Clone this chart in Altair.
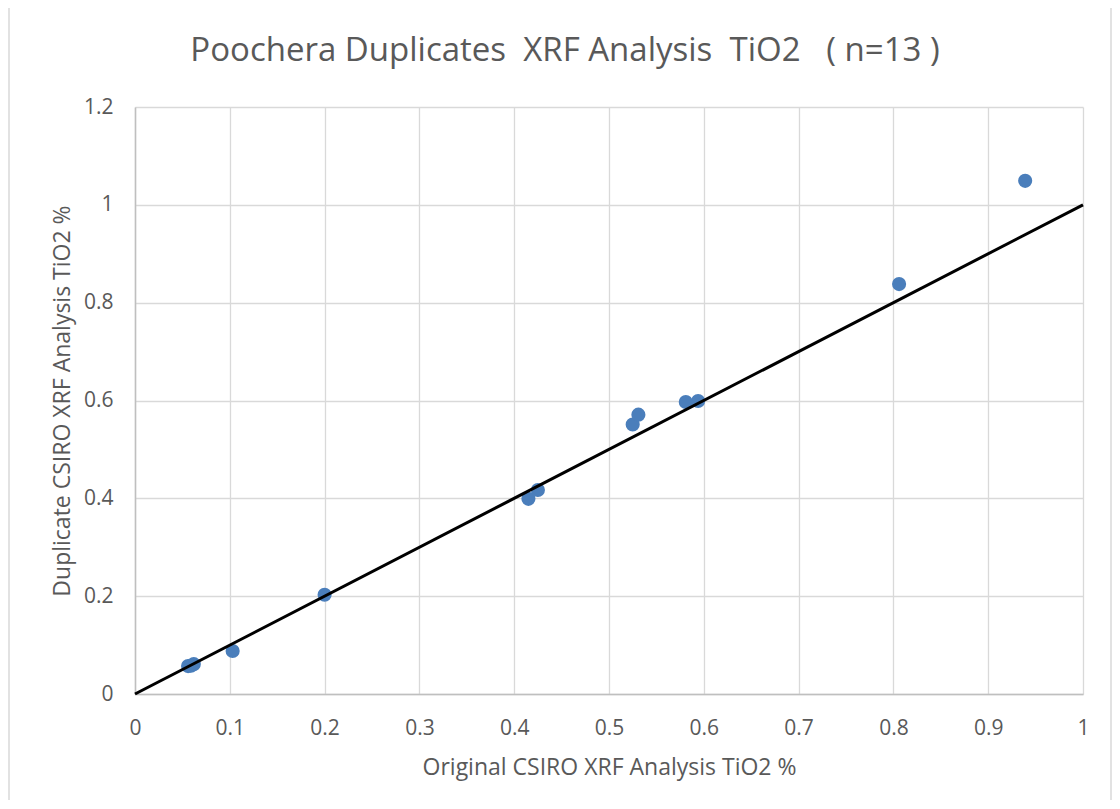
import altair as alt
import pandas as pd

# Data
orig = [0.056, 0.059, 0.062, 0.103, 0.200, 0.415, 0.425, 0.525, 0.531, 0.581, 0.594, 0.806, 0.939]
dup = [0.057, 0.058, 0.061, 0.088, 0.203, 0.399, 0.417, 0.551, 0.571, 0.597, 0.599, 0.838, 1.049]
line_x = [0, 1]
line_y = [0, 1]
x_ticks = [0, 0.1, 0.2, 0.3, 0.4, 0.5, 0.6, 0.7, 0.8, 0.9, 1]
y_ticks = [0, 0.2, 0.4, 0.6, 0.8, 1, 1.2]
title_text = "Poochera Duplicates\u00a0\u00a0XRF Analysis\u00a0\u00a0TiO2\u00a0\u00a0\u00a0( n=13 )"

pts = pd.DataFrame({"orig": orig, "dup": dup})
ln = pd.DataFrame({"orig": line_x, "dup": line_y})

FONT = "Open Sans"
GREY = "#595959"

xscale = alt.Scale(domain=[0, 1], nice=False, zero=True)
yscale = alt.Scale(domain=[0, 1.2], nice=False, zero=True)

xaxis = alt.Axis(values=x_ticks, format="~g", title="Original CSIRO XRF Analysis TiO2 %",
                 ticks=False, labelPadding=23, labelFontSize=21, labelColor=GREY, labelFlush=False,
                 titleFontSize=23, titleColor=GREY, titleFontWeight="normal",
                 titleX=474, titleY=73, titleBaseline="middle",
                 domainColor="#bfbfbf", domainWidth=1.5, gridColor="#d9d9d9", gridWidth=1.3)
yaxis = alt.Axis(values=y_ticks, format="~g", title="Duplicate CSIRO XRF Analysis TiO2 %",
                 ticks=False, labelPadding=22, labelFontSize=21, labelColor=GREY, labelFlush=False,
                 titleFontSize=23, titleColor=GREY, titleFontWeight="normal",
                 titleX=-73, titleY=293.5, titleAngle=-90, titleAlign="center", titleBaseline="middle",
                 domainColor="#bfbfbf", domainWidth=1.5, gridColor="#d9d9d9", gridWidth=1.3)

border = alt.Chart(alt.Data(values=[{"a": 1}])).mark_rect(
    fill=None, stroke="#d9d9d9", strokeWidth=1.5
).encode(x=alt.value(-126), x2=alt.value(976), y=alt.value(-100), y2=alt.value(700))

points = alt.Chart(pts).mark_circle(size=200, color="#4a7ebb", opacity=1).encode(
    x=alt.X("orig:Q", scale=xscale, axis=xaxis),
    y=alt.Y("dup:Q", scale=yscale, axis=yaxis),
)

line = alt.Chart(ln).mark_line(color="black", strokeWidth=3).encode(
    x=alt.X("orig:Q", scale=xscale),
    y=alt.Y("dup:Q", scale=yscale),
)

chart = alt.layer(border, points, line).properties(
    width=948, height=587,
    title=alt.TitleParams(title_text,
                          fontSize=33, font=FONT, color=GREY, fontWeight="normal",
                          anchor="middle", dx=-44, offset=-62),
    autosize=alt.AutoSizeParams(type="none"),
    padding={"left": 127, "top": 99, "right": 29, "bottom": 106},
).configure(font=FONT).configure_view(stroke=None).configure_axis(labelFont=FONT, titleFont=FONT)

chart.save("out.html", embed_options={"renderer": "svg", "actions": False})
